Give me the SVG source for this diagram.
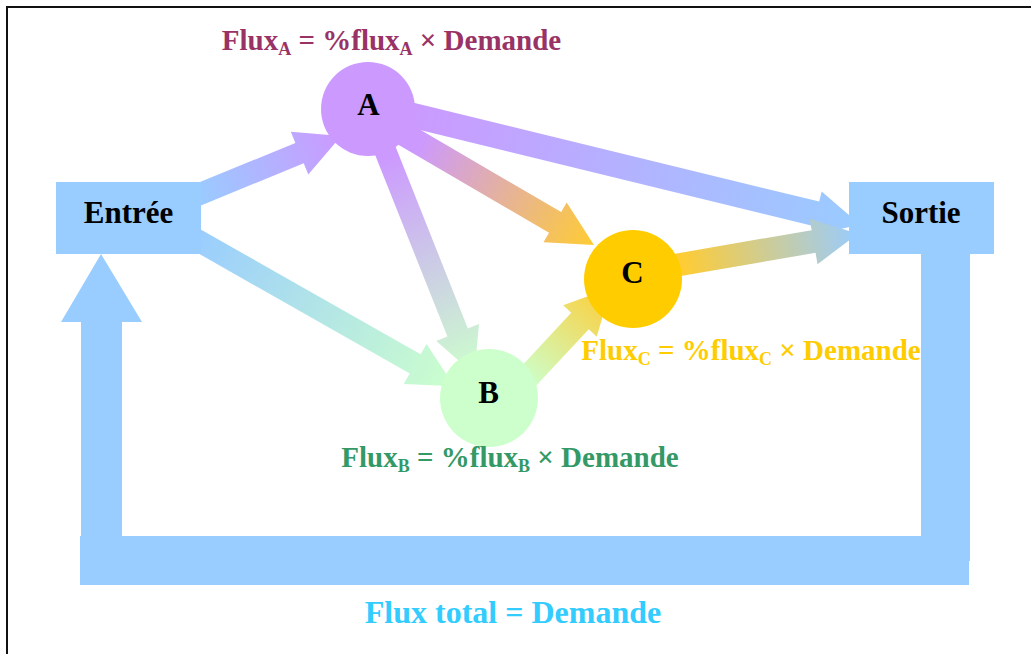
<svg xmlns="http://www.w3.org/2000/svg" width="1031" height="654" viewBox="0 0 1031 654">
<style>
.lbl{font-family:"Liberation Serif","Times New Roman",serif;font-weight:bold;}
.node{font-size:31px;fill:#000;text-anchor:middle;}
.flux{font-size:29px;text-anchor:middle;}
.sub{font-size:18px;}
.box{fill:#99ccff;}
</style>
<defs>
<linearGradient id="gEA" x1="0" y1="0" x2="1" y2="0"><stop offset="0" stop-color="#99ccff"/><stop offset="1" stop-color="#cc99ff"/></linearGradient>
<linearGradient id="gEB" x1="0" y1="0" x2="1" y2="0"><stop offset="0" stop-color="#99ccff"/><stop offset="1" stop-color="#ccffcc"/></linearGradient>
<linearGradient id="gAS" x1="0" y1="0" x2="1" y2="0"><stop offset="0.05" stop-color="#cc99ff"/><stop offset="1" stop-color="#99ccff"/></linearGradient>
<linearGradient id="gAC" x1="0" y1="0" x2="1" y2="0"><stop offset="0.1" stop-color="#cc99ff"/><stop offset="1" stop-color="#ffcc33"/></linearGradient>
<linearGradient id="gAB" x1="0" y1="0" x2="1" y2="0"><stop offset="0.08" stop-color="#cc99ff"/><stop offset="1" stop-color="#ccffcc"/></linearGradient>
<linearGradient id="gBC" x1="0" y1="0" x2="1" y2="0"><stop offset="0.22" stop-color="#ccffcc"/><stop offset="1" stop-color="#ffcc33"/></linearGradient>
<linearGradient id="gCS" x1="0" y1="0" x2="1" y2="0"><stop offset="0.08" stop-color="#ffcc33"/><stop offset="1" stop-color="#99ccff"/></linearGradient>
</defs>
<rect x="0" y="0" width="1031" height="654" fill="#fff"/>
<rect x="7" y="7" width="1060" height="680" fill="none" stroke="#111" stroke-width="2"/>
<g id="connectors">
<polygon fill="url(#gEA)" transform="translate(195,196) rotate(-22.3)" points="0,-11 113,-11 113,-23 158,0 113,23 113,11 0,11"/>
<polygon fill="url(#gEB)" transform="translate(190,236) rotate(29.6)" points="0,-11 259,-11 259,-23 304,0 259,23 259,11 0,11"/>
<polygon fill="url(#gAS)" transform="translate(380,107.4) rotate(13.7)" points="0,-12.5 449,-12.5 449,-23 494,0 449,23 449,12.5 0,12.5"/>
<polygon fill="url(#gAC)" transform="translate(399.7,131.6) rotate(30.3)" points="0,-12 180,-12 180,-23 225,0 180,23 180,12 0,12"/>
<polygon fill="url(#gAB)" transform="translate(380,137.4) rotate(68.3)" points="0,-11 210,-11 210,-23 255,0 210,23 210,11 0,11"/>
<polygon fill="url(#gBC)" transform="translate(500.2,406.6) rotate(-47)" points="0,-12 117,-12 117,-23 162,0 117,23 117,12 0,12"/>
<polygon fill="url(#gCS)" transform="translate(665.8,267) rotate(-9.8)" points="0,-11.5 150,-11.5 150,-23 195,0 150,23 150,11.5 0,11.5"/>
<polygon class="box" points="921,254 970,254 970,561 969,561 969,585 80,585 80,536 81,536 81,322 61,322 101,254 142,322 122,322 122,536 921,536"/>
</g>
<g id="entree">
<rect class="box" x="56" y="182" width="145" height="72"/>
<text class="lbl node" x="128.5" y="223">Entrée</text>
</g>
<g id="sortie">
<rect class="box" x="849" y="182" width="145" height="72"/>
<text class="lbl node" x="921" y="223">Sortie</text>
</g>
<g id="nodeA">
<circle cx="368" cy="109" r="47" fill="#cc99ff"/>
<text class="lbl node" x="368.5" y="115">A</text>
</g>
<g id="nodeB">
<circle cx="489" cy="398" r="49" fill="#ccffcc"/>
<text class="lbl node" x="488.5" y="403">B</text>
</g>
<g id="nodeC">
<circle cx="633" cy="279" r="49" fill="#ffcc00"/>
<text class="lbl node" x="632.5" y="283">C</text>
</g>
<g id="labels">
<text class="lbl flux" x="391.5" y="50" fill="#993366">Flux<tspan class="sub" dy="5">A</tspan><tspan dy="-5"> = %flux</tspan><tspan class="sub" dy="5">A</tspan><tspan dy="-5"> × Demande</tspan></text>
<text class="lbl flux" x="751" y="360" fill="#ffcc00">Flux<tspan class="sub" dy="5">C</tspan><tspan dy="-5"> = %flux</tspan><tspan class="sub" dy="5">C</tspan><tspan dy="-5"> × Demande</tspan></text>
<text class="lbl flux" x="510" y="467" fill="#339966">Flux<tspan class="sub" dy="5">B</tspan><tspan dy="-5"> = %flux</tspan><tspan class="sub" dy="5">B</tspan><tspan dy="-5"> × Demande</tspan></text>
<text class="lbl" x="513" y="623" font-size="32" fill="#33ccff" text-anchor="middle">Flux total = Demande</text>
</g>
</svg>
